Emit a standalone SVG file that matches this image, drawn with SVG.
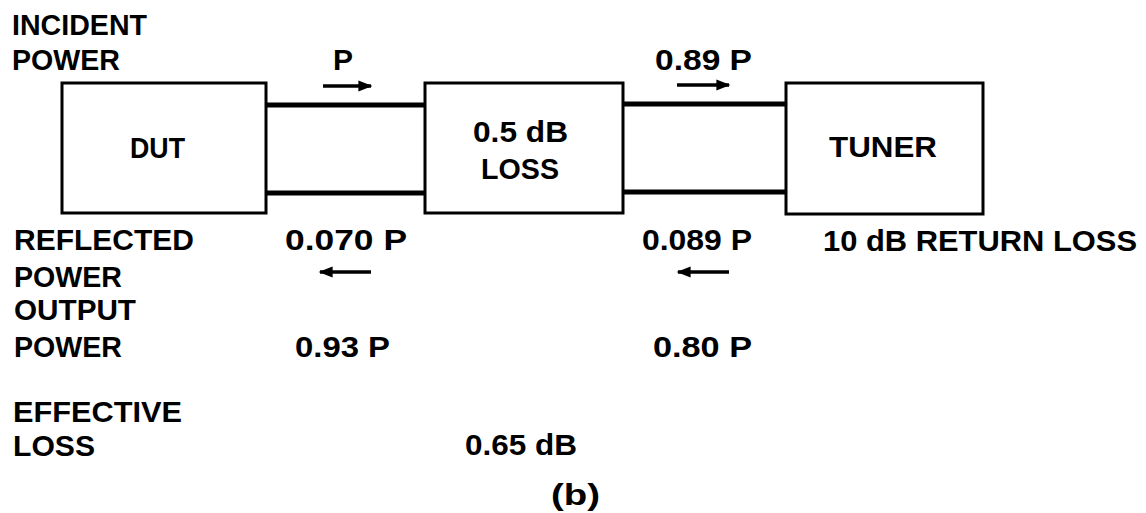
<svg xmlns="http://www.w3.org/2000/svg" width="1146" height="513" viewBox="0 0 1146 513">
<style>
.t{font-family:"Liberation Sans",Arial,sans-serif;font-weight:bold;font-size:29px;fill:#000}
.big{font-size:30px}
.box{fill:#fff;stroke:#000;stroke-width:3}
.line{stroke:#000;stroke-width:5;fill:none}
.arr{stroke:#000;stroke-width:3.5;fill:none}
</style>
<defs>
<marker id="ah" viewBox="0 0 10 10" refX="9" refY="5" markerWidth="4.5" markerHeight="4" orient="auto" markerUnits="strokeWidth">
<path d="M0,1 L10,5 L0,9 z" fill="#000"/>
</marker>
</defs>
<rect width="1146" height="513" fill="#fff"/>
<g id="connectors">
<line class="line" x1="266" y1="105" x2="425" y2="105"/>
<line class="line" x1="266" y1="193" x2="425" y2="193"/>
<line class="line" x1="623" y1="104" x2="786" y2="104"/>
<line class="line" x1="623" y1="192" x2="786" y2="192"/>
<line class="arr" x1="323" y1="86" x2="371" y2="86" marker-end="url(#ah)"/>
<line class="arr" x1="677" y1="85" x2="729" y2="85" marker-end="url(#ah)"/>
<line class="arr" x1="371" y1="272" x2="320" y2="272" marker-end="url(#ah)"/>
<line class="arr" x1="729" y1="272" x2="678" y2="272" marker-end="url(#ah)"/>
</g>
<g id="dut">
<rect class="box" x="62" y="83" width="204" height="130"/>
<text class="t" x="130" y="158" textLength="55" lengthAdjust="spacingAndGlyphs">DUT</text>
</g>
<g id="loss">
<rect class="box" x="425" y="83" width="198" height="130"/>
<text class="t" x="473" y="142" textLength="95" lengthAdjust="spacingAndGlyphs">0.5 dB</text>
<text class="t" x="481" y="179" textLength="78" lengthAdjust="spacingAndGlyphs">LOSS</text>
</g>
<g id="tuner">
<rect class="box" x="786" y="83" width="197" height="131"/>
<text class="t" x="829" y="157" textLength="108" lengthAdjust="spacingAndGlyphs">TUNER</text>
</g>
<g id="labels">
<text class="t" x="12" y="35" textLength="135" lengthAdjust="spacingAndGlyphs">INCIDENT</text>
<text class="t" x="12" y="70" textLength="108" lengthAdjust="spacingAndGlyphs">POWER</text>
<text class="t" x="333" y="70" textLength="20" lengthAdjust="spacingAndGlyphs">P</text>
<text class="t" x="655" y="70" textLength="97" lengthAdjust="spacingAndGlyphs">0.89 P</text>
<text class="t" x="14" y="250" textLength="180" lengthAdjust="spacingAndGlyphs">REFLECTED</text>
<text class="t" x="14" y="287" textLength="108" lengthAdjust="spacingAndGlyphs">POWER</text>
<text class="t" x="285" y="250" textLength="122" lengthAdjust="spacingAndGlyphs">0.070 P</text>
<text class="t" x="642" y="250" textLength="110" lengthAdjust="spacingAndGlyphs">0.089 P</text>
<text class="t" x="823" y="251" textLength="314" lengthAdjust="spacingAndGlyphs">10 dB RETURN LOSS</text>
<text class="t" x="14" y="320" textLength="122" lengthAdjust="spacingAndGlyphs">OUTPUT</text>
<text class="t" x="14" y="357" textLength="108" lengthAdjust="spacingAndGlyphs">POWER</text>
<text class="t" x="295" y="357" textLength="95" lengthAdjust="spacingAndGlyphs">0.93 P</text>
<text class="t" x="653" y="357" textLength="99" lengthAdjust="spacingAndGlyphs">0.80 P</text>
<text class="t big" x="13" y="422" textLength="169" lengthAdjust="spacingAndGlyphs">EFFECTIVE</text>
<text class="t big" x="13" y="456" textLength="82" lengthAdjust="spacingAndGlyphs">LOSS</text>
<text class="t" x="465" y="455" textLength="112" lengthAdjust="spacingAndGlyphs">0.65 dB</text>
<text class="t" x="551" y="505" textLength="49" lengthAdjust="spacingAndGlyphs">(b)</text>
</g>
</svg>
